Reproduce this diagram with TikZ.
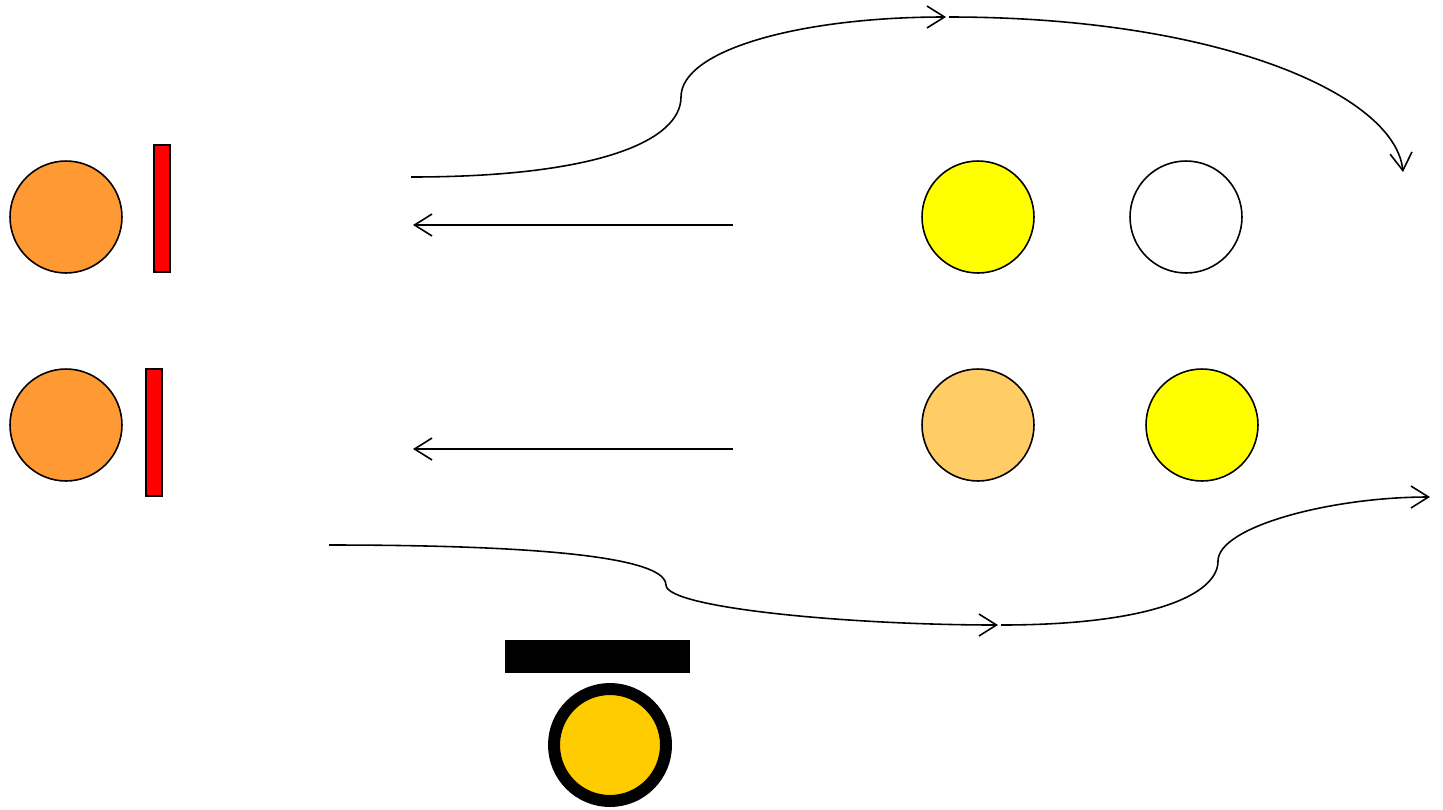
\documentclass[tikz,border=0pt]{standalone}
\usetikzlibrary{arrows.meta}
\definecolor{ballorange}{HTML}{FF9933}
\definecolor{ballpale}{HTML}{FFCC66}
\definecolor{ballgold}{HTML}{FFCC00}
\definecolor{ballyellow}{HTML}{FFFF00}
\tikzset{
  ball/.style={circle, draw, line width=0.9pt, minimum size=2.24cm, inner sep=0pt},
  plate/.style={draw, fill=red, line width=0.9pt},
  path/.style={line width=0.9pt, -{Straight Barb[length=10pt, width=12.5pt]}}
}
\begin{document}
\begin{tikzpicture}[x=0.02cm, y=-0.02cm]%
        \useasboundingbox (0,0) rectangle (1443,809);
        \node[ball, fill=ballorange] (src1) at (66,217) {};
        \node[ball, fill=ballorange] (src2) at (66,425) {};
        \draw[plate] (154,145) rectangle (170,272);
        \draw[plate] (146,369) rectangle (162,496);
        \node[ball, fill=ballyellow] (tgt1) at (978,217) {};
        \node[ball, fill=white] (tgt2) at (1186,217) {};
        \node[ball, fill=ballpale] (tgt3) at (978,425) {};
        \node[ball, fill=ballyellow] (tgt4) at (1202,425) {};
        \fill (505,640) rectangle (690,673);
        \node[circle, draw, line width=12*0.02cm, fill=ballgold, minimum size=2.24cm, inner sep=0pt] (lamp) at (610,745) {};
        \coordinate (r1a) at (733,225); \coordinate (r1b) at (413,225);
        \coordinate (r2a) at (733,449); \coordinate (r2b) at (413,449);
        \coordinate (up0) at (411,177); \coordinate (up1) at (946,17);
        \coordinate (up2) at (949,17); \coordinate (up3) at (1403,172);
        \coordinate (dn0) at (329,545); \coordinate (dn1) at (998,625);
        \coordinate (dn2) at (1001,625); \coordinate (dn3) at (1430,497);
        \draw[path] (r1a) -- (r1b);
        \draw[path] (r2a) -- (r2b);
        \draw[path] (up0) .. controls (600,177) and (681,140) .. (681,97) .. controls (681,50) and (800,17) .. (up1);
        \draw[path] (up2) .. controls (1220,17) and (1395,95) .. (up3);
        \draw[path] (dn0) .. controls (600,545) and (666,565) .. (666,585) .. controls (666,608) and (850,625) .. (dn1);
        \draw[path] (dn2) .. controls (1150,625) and (1218,595) .. (1218,561) .. controls (1218,527) and (1330,497) .. (dn3);
    \end{tikzpicture}
\end{document}
